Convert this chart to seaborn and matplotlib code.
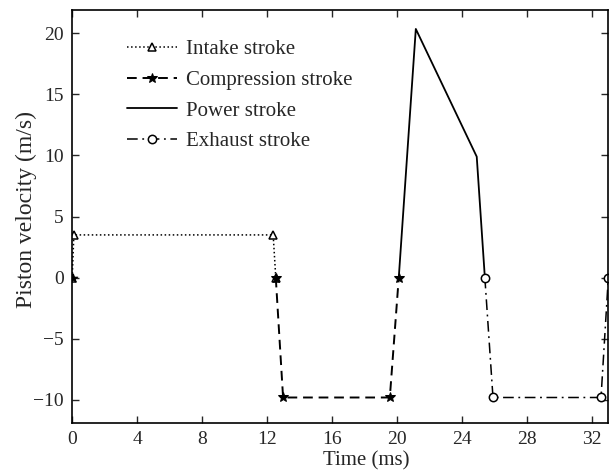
import matplotlib
matplotlib.use("Agg")
import matplotlib.pyplot as plt
import seaborn as sns
import pandas as pd

# Data (time in ms, velocity in m/s)
intake_t = [0.0, 0.1, 12.37, 12.53]
intake_v = [0.0, 3.5, 3.5, 0.0]
comp_t = [12.53, 12.98, 19.55, 20.1]
comp_v = [0.0, -9.8, -9.8, 0.0]
comp_extra_t = [0.05]
comp_extra_v = [0.0]
power_t = [20.1, 21.15, 24.9, 25.4]
power_v = [0.0, 20.35, 9.9, 0.0]
exh_t = [25.4, 25.9, 32.55, 33.0]
exh_v = [0.0, -9.8, -9.8, 0.0]

xticks = [0, 4, 8, 12, 16, 20, 24, 28, 32]
yticks = [-10, -5, 0, 5, 10, 15, 20]

sns.set_style("ticks")
plt.rcParams['font.family'] = ['Liberation Serif', 'DejaVu Serif']
plt.rcParams['axes.unicode_minus'] = True

fig = plt.figure(figsize=(6.12, 4.76), dpi=100)
ax = fig.add_axes([0.118, 0.111, 0.876, 0.868])

lw = 1.1
sns.lineplot(x=intake_t, y=intake_v, ax=ax, sort=False, estimator=None,
             color='black', lw=lw, linestyle=':', marker='^', markersize=6,
             markerfacecolor='white', markeredgecolor='black', markeredgewidth=1.1,
             label='Intake stroke')
sns.lineplot(x=comp_t, y=comp_v, ax=ax, sort=False, estimator=None,
             color='black', lw=1.4, linestyle=(0, (5, 3)), marker='*', markersize=7,
             markerfacecolor='black', markeredgecolor='black',
             label='Compression stroke')
sns.scatterplot(x=comp_extra_t, y=comp_extra_v, ax=ax, color='black', marker='*',
                s=45, edgecolor='black', legend=False, zorder=3)
sns.lineplot(x=power_t, y=power_v, ax=ax, sort=False, estimator=None,
             color='black', lw=1.3, linestyle='-', label='Power stroke')
sns.lineplot(x=exh_t, y=exh_v, ax=ax, sort=False, estimator=None,
             color='black', lw=lw, linestyle=(0, (7, 3, 1.2, 3)), marker='o', markersize=6,
             markerfacecolor='white', markeredgecolor='black', markeredgewidth=1.1,
             label='Exhaust stroke')

ax.set_xlim(0, 33)
ax.set_ylim(-11.9, 21.9)
ax.set_xticks(xticks)
ax.set_yticks(yticks)
ax.set_xticklabels([str(t) for t in xticks], fontsize=14)
ax.set_yticklabels([str(t).replace('-', '\u2212') for t in yticks], fontsize=14)
ax.tick_params(direction='in', length=5, width=1, top=True, right=True, pad=6)
for s in ax.spines.values():
    s.set_visible(True)
    s.set_linewidth(1.2)
    s.set_color('black')

ax.set_xlabel('Time (ms)', fontsize=15, labelpad=2)
ax.xaxis.set_label_coords(0.548, -0.068)
ax.set_ylabel('Piston velocity (m/s)', fontsize=17)
ax.yaxis.set_label_coords(-0.066, 0.516)

leg = ax.legend(loc='upper left', bbox_to_anchor=(0.102, 0.928), frameon=False,
                fontsize=15, handlelength=2.4, handletextpad=0.43, labelspacing=0.53,
                borderaxespad=0, borderpad=0)

fig.savefig('out.png', dpi=100)
